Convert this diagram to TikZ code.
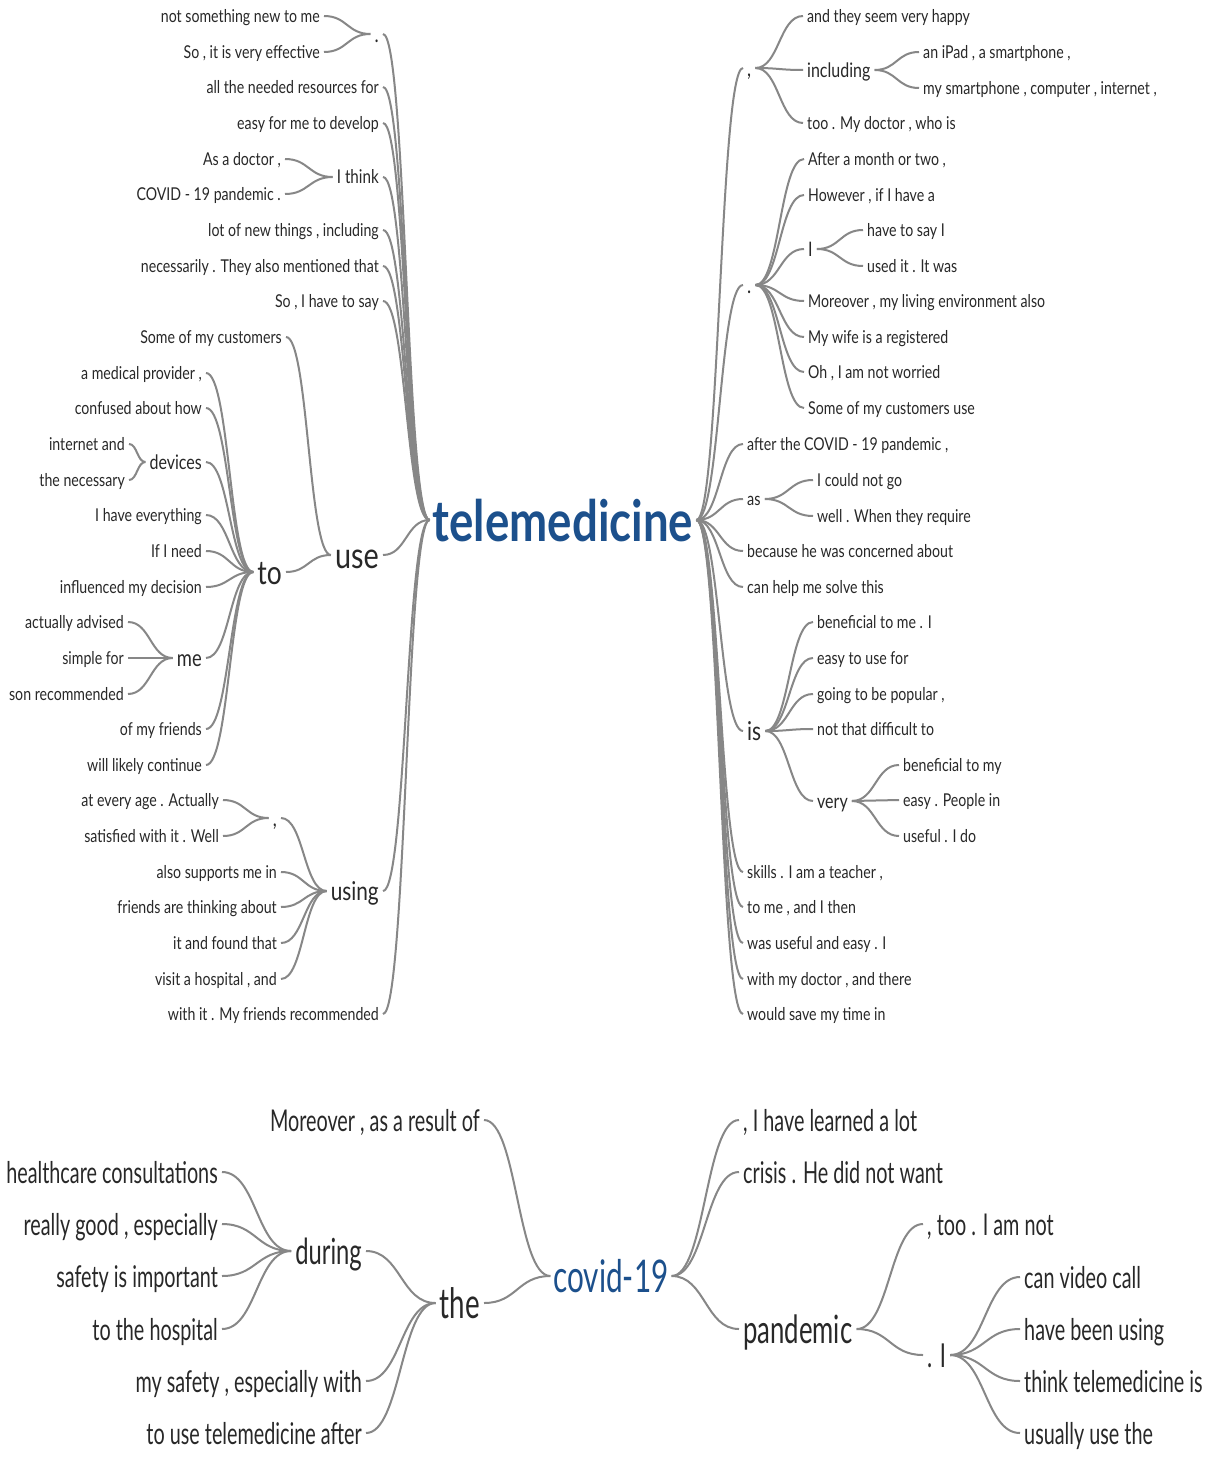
\documentclass[tikz,border=0pt]{standalone}
\usepackage{fontspec}
\setmainfont{Lato}[FakeStretch=0.8]
\newfontfamily\narrowfont{Lato}[FakeStretch=0.66]
\usetikzlibrary{calc}
\definecolor{twiggray}{RGB}{135,135,135}
\definecolor{wordgray}{RGB}{40,40,40}
\definecolor{rootblue}{RGB}{28,80,140}
\tikzset{
  branch/.style={to path={let \p1=(\tikztostart), \p2=(\tikztotarget) in
    .. controls ({(\x1+\x2)/2},\y1) and ({(\x1+\x2)/2},\y2) .. (\tikztotarget)}},
  twig/.style={draw=twiggray, line width=2pt},
  word/.style={inner sep=4pt, text depth=0pt, text=wordgray, execute at begin node={\vphantom{l}}},
  leaf/.style={word, font=\fontsize{17.7}{20}\selectfont},
  hub/.style={word, font=\fontsize{#1}{#1}\selectfont},
  rootword/.style={word, inner sep=3pt, text=rootblue, font=\bfseries\fontsize{57}{57}\selectfont},
  lowleaf/.style={word, font=\narrowfont\fontsize{30}{32}\selectfont},
  lowhub/.style={word, font=\narrowfont\fontsize{#1}{#1}\selectfont},
  lowroot/.style={word, inner sep=3pt, text=rootblue, font=\narrowfont\fontsize{45}{45}\selectfont},
}
\begin{document}
\begin{tikzpicture}[x=1pt,y=-1pt]
\path[fill=white] (0,0) rectangle (1209,1458);
\useasboundingbox (0,0) rectangle (1209,1458);
% upper tree
\node[rootword] (tele) at (563,520) {telemedicine};
% left of telemedicine
\node[hub=22,anchor=east] (dotL) at (383,34) {.};
\node[leaf,anchor=east] (newtome) at (324,16) {not something new to me};
\node[leaf,anchor=east] (effective) at (324,52) {So , it is very effective};
\node[leaf,anchor=east] (resources) at (383,87) {all the needed resources for};
\node[leaf,anchor=east] (develop) at (383,123) {easy for me to develop};
\node[hub=19,anchor=east] (ithink) at (383,177) {I think};
\node[leaf,anchor=east] (asdoctor) at (285,159) {As a doctor ,};
\node[leaf,anchor=east] (covidpand) at (285,194) {COVID - 19 pandemic .};
\node[leaf,anchor=east] (newthings) at (383,230) {lot of new things , including};
\node[leaf,anchor=east] (mentioned) at (383,266) {necessarily . They also mentioned that};
\node[leaf,anchor=east] (havetosay) at (383,301) {So , I have to say};
\node[hub=36,anchor=east] (use) at (383,555) {use};
\node[leaf,anchor=east] (somecust) at (286,337) {Some of my customers};
\node[hub=33,anchor=east] (to) at (286,572) {to};
\node[leaf,anchor=east] (provider) at (206,373) {a medical provider ,};
\node[leaf,anchor=east] (confused) at (206,408) {confused about how};
\node[hub=20,anchor=east] (devices) at (206,462) {devices};
\node[leaf,anchor=east] (internet) at (129,444) {internet and};
\node[leaf,anchor=east] (necessary) at (129,480) {the necessary};
\node[leaf,anchor=east] (everything) at (206,515) {I have everything};
\node[leaf,anchor=east] (ifineed) at (206,551) {If I need};
\node[leaf,anchor=east] (decision) at (206,587) {influenced my decision};
\node[hub=23,anchor=east] (me) at (206,658) {me};
\node[leaf,anchor=east] (advised) at (128,622) {actually advised};
\node[leaf,anchor=east] (simplefor) at (128,658) {simple for};
\node[leaf,anchor=east] (sonrec) at (128,694) {son recommended};
\node[leaf,anchor=east] (friends) at (206,729) {of my friends};
\node[leaf,anchor=east] (continue) at (206,765) {will likely continue};
\node[hub=26,anchor=east] (using) at (383,891) {using};
\node[hub=22,anchor=east] (commaL) at (281,818) {,};
\node[leaf,anchor=east] (everyage) at (223,800) {at every age . Actually};
\node[leaf,anchor=east] (satisfied) at (223,836) {satisfied with it . Well};
\node[leaf,anchor=east] (supports) at (281,872) {also supports me in};
\node[leaf,anchor=east] (thinking) at (281,907) {friends are thinking about};
\node[leaf,anchor=east] (foundthat) at (281,943) {it and found that};
\node[leaf,anchor=east] (hospital) at (281,979) {visit a hospital , and};
\node[leaf,anchor=east] (recommended) at (383,1014) {with it . My friends recommended};
% right of telemedicine
\node[hub=22,anchor=west] (commaR) at (743,68) {,};
\node[leaf,anchor=west] (happy) at (803,16) {and they seem very happy};
\node[hub=20,anchor=west] (including) at (803,70) {including};
\node[leaf,anchor=west] (ipad) at (919,52) {an iPad , a smartphone ,};
\node[leaf,anchor=west] (computer) at (919,88) {my smartphone , computer , internet ,};
\node[leaf,anchor=west] (whois) at (803,123) {too . My doctor , who is};
\node[hub=22,anchor=west] (dotR) at (743,285) {.};
\node[leaf,anchor=west] (month) at (804,159) {After a month or two ,};
\node[leaf,anchor=west] (however) at (804,195) {However , if I have a};
\node[hub=20,anchor=west] (iword) at (804,249) {I};
\node[leaf,anchor=west] (sayi) at (863,230) {have to say I};
\node[leaf,anchor=west] (itwas) at (863,266) {used it . It was};
\node[leaf,anchor=west] (living) at (804,301) {Moreover , my living environment also};
\node[leaf,anchor=west] (wife) at (804,337) {My wife is a registered};
\node[leaf,anchor=west] (worried) at (804,372) {Oh , I am not worried};
\node[leaf,anchor=west] (custuse) at (804,408) {Some of my customers use};
\node[leaf,anchor=west] (afterpand) at (743,444) {after the COVID - 19 pandemic ,};
\node[hub=18,anchor=west] (as) at (743,499) {as};
\node[leaf,anchor=west] (notgo) at (813,480) {I could not go};
\node[leaf,anchor=west] (require) at (813,516) {well . When they require};
\node[leaf,anchor=west] (concerned) at (743,551) {because he was concerned about};
\node[leaf,anchor=west] (solve) at (743,587) {can help me solve this};
\node[hub=26,anchor=west] (is) at (743,731) {is};
\node[leaf,anchor=west] (benme) at (813,622) {beneficial to me . I};
\node[leaf,anchor=west] (easyuse) at (813,658) {easy to use for};
\node[leaf,anchor=west] (popular) at (813,694) {going to be popular ,};
\node[leaf,anchor=west] (difficult) at (813,729) {not that difficult to};
\node[hub=20,anchor=west] (very) at (813,801) {very};
\node[leaf,anchor=west] (benmy) at (899,765) {beneficial to my};
\node[leaf,anchor=west] (people) at (899,800) {easy . People in};
\node[leaf,anchor=west] (ido) at (899,836) {useful . I do};
\node[leaf,anchor=west] (teacher) at (743,872) {skills . I am a teacher ,};
\node[leaf,anchor=west] (ithen) at (743,907) {to me , and I then};
\node[leaf,anchor=west] (easyi) at (743,943) {was useful and easy . I};
\node[leaf,anchor=west] (there) at (743,979) {with my doctor , and there};
\node[leaf,anchor=west] (savetime) at (743,1014) {would save my time in};
% links, upper tree
\draw[twig] (newtome.east) to[branch] (dotL.west);
\draw[twig] (effective.east) to[branch] (dotL.west);
\draw[twig] (asdoctor.east) to[branch] (ithink.west);
\draw[twig] (covidpand.east) to[branch] (ithink.west);
\draw[twig] (internet.east) to[branch] (devices.west);
\draw[twig] (necessary.east) to[branch] (devices.west);
\draw[twig] (advised.east) to[branch] (me.west);
\draw[twig] (simplefor.east) to[branch] (me.west);
\draw[twig] (sonrec.east) to[branch] (me.west);
\draw[twig] (provider.east) to[branch] (to.west);
\draw[twig] (confused.east) to[branch] (to.west);
\draw[twig] (devices.east) to[branch] (to.west);
\draw[twig] (everything.east) to[branch] (to.west);
\draw[twig] (ifineed.east) to[branch] (to.west);
\draw[twig] (decision.east) to[branch] (to.west);
\draw[twig] (me.east) to[branch] (to.west);
\draw[twig] (friends.east) to[branch] (to.west);
\draw[twig] (continue.east) to[branch] (to.west);
\draw[twig] (somecust.east) to[branch] (use.west);
\draw[twig] (to.east) to[branch] (use.west);
\draw[twig] (everyage.east) to[branch] (commaL.west);
\draw[twig] (satisfied.east) to[branch] (commaL.west);
\draw[twig] (commaL.east) to[branch] (using.west);
\draw[twig] (supports.east) to[branch] (using.west);
\draw[twig] (thinking.east) to[branch] (using.west);
\draw[twig] (foundthat.east) to[branch] (using.west);
\draw[twig] (hospital.east) to[branch] (using.west);
\draw[twig] (dotL.east) to[branch] (tele.west);
\draw[twig] (resources.east) to[branch] (tele.west);
\draw[twig] (develop.east) to[branch] (tele.west);
\draw[twig] (ithink.east) to[branch] (tele.west);
\draw[twig] (newthings.east) to[branch] (tele.west);
\draw[twig] (mentioned.east) to[branch] (tele.west);
\draw[twig] (havetosay.east) to[branch] (tele.west);
\draw[twig] (use.east) to[branch] (tele.west);
\draw[twig] (using.east) to[branch] (tele.west);
\draw[twig] (recommended.east) to[branch] (tele.west);
\draw[twig] (tele.east) to[branch] (commaR.west);
\draw[twig] (commaR.east) to[branch] (happy.west);
\draw[twig] (commaR.east) to[branch] (including.west);
\draw[twig] (commaR.east) to[branch] (whois.west);
\draw[twig] (including.east) to[branch] (ipad.west);
\draw[twig] (including.east) to[branch] (computer.west);
\draw[twig] (tele.east) to[branch] (dotR.west);
\draw[twig] (dotR.east) to[branch] (month.west);
\draw[twig] (dotR.east) to[branch] (however.west);
\draw[twig] (dotR.east) to[branch] (iword.west);
\draw[twig] (iword.east) to[branch] (sayi.west);
\draw[twig] (iword.east) to[branch] (itwas.west);
\draw[twig] (dotR.east) to[branch] (living.west);
\draw[twig] (dotR.east) to[branch] (wife.west);
\draw[twig] (dotR.east) to[branch] (worried.west);
\draw[twig] (dotR.east) to[branch] (custuse.west);
\draw[twig] (tele.east) to[branch] (afterpand.west);
\draw[twig] (tele.east) to[branch] (as.west);
\draw[twig] (as.east) to[branch] (notgo.west);
\draw[twig] (as.east) to[branch] (require.west);
\draw[twig] (tele.east) to[branch] (concerned.west);
\draw[twig] (tele.east) to[branch] (solve.west);
\draw[twig] (tele.east) to[branch] (is.west);
\draw[twig] (is.east) to[branch] (benme.west);
\draw[twig] (is.east) to[branch] (easyuse.west);
\draw[twig] (is.east) to[branch] (popular.west);
\draw[twig] (is.east) to[branch] (difficult.west);
\draw[twig] (is.east) to[branch] (very.west);
\draw[twig] (very.east) to[branch] (benmy.west);
\draw[twig] (very.east) to[branch] (people.west);
\draw[twig] (very.east) to[branch] (ido.west);
\draw[twig] (tele.east) to[branch] (teacher.west);
\draw[twig] (tele.east) to[branch] (ithen.west);
\draw[twig] (tele.east) to[branch] (easyi.west);
\draw[twig] (tele.east) to[branch] (there.west);
\draw[twig] (tele.east) to[branch] (savetime.west);
% lower tree
\node[lowroot] (covid) at (611,1276) {covid-19};
\node[lowleaf,anchor=east] (result) at (484,1120) {Moreover , as a result of};
\node[lowhub=42,anchor=east] (the) at (484,1303) {the};
\node[lowhub=36,anchor=east] (during) at (366,1251) {during};
\node[lowleaf,anchor=east] (consult) at (222,1172) {in healthcare consultations};
\node[lowleaf,anchor=east] (good) at (222,1224) {really good , especially};
\node[lowleaf,anchor=east] (important) at (222,1276) {safety is important};
\node[lowleaf,anchor=east] (tohosp) at (222,1329) {to the hospital};
\node[lowleaf,anchor=east] (mysafety) at (366,1381) {my safety , especially with};
\node[lowleaf,anchor=east] (useafter) at (366,1433) {to use telemedicine after};
\node[lowleaf,anchor=west] (learned) at (739,1120) {, I have learned a lot};
\node[lowleaf,anchor=west] (crisis) at (739,1172) {crisis . He did not want};
\node[lowhub=39,anchor=west] (pandemic) at (739,1329) {pandemic};
\node[lowleaf,anchor=west] (iamnot) at (923,1224) {, too . I am not};
\node[lowhub=33,anchor=west] (doti) at (923,1355) {. I};
\node[lowleaf,anchor=west] (videocall) at (1020,1277) {can video call};
\node[lowleaf,anchor=west] (beenusing) at (1020,1329) {have been using};
\node[lowleaf,anchor=west] (thinktele) at (1020,1381) {think telemedicine is};
\node[lowleaf,anchor=west] (usually) at (1020,1433) {usually use the};
% links, lower tree
\draw[twig] (consult.east) to[branch] (during.west);
\draw[twig] (good.east) to[branch] (during.west);
\draw[twig] (important.east) to[branch] (during.west);
\draw[twig] (tohosp.east) to[branch] (during.west);
\draw[twig] (during.east) to[branch] (the.west);
\draw[twig] (mysafety.east) to[branch] (the.west);
\draw[twig] (useafter.east) to[branch] (the.west);
\draw[twig] (result.east) to[branch] (covid.west);
\draw[twig] (the.east) to[branch] (covid.west);
\draw[twig] (covid.east) to[branch] (learned.west);
\draw[twig] (covid.east) to[branch] (crisis.west);
\draw[twig] (covid.east) to[branch] (pandemic.west);
\draw[twig] (pandemic.east) to[branch] (iamnot.west);
\draw[twig] (pandemic.east) to[branch] (doti.west);
\draw[twig] (doti.east) to[branch] (videocall.west);
\draw[twig] (doti.east) to[branch] (beenusing.west);
\draw[twig] (doti.east) to[branch] (thinktele.west);
\draw[twig] (doti.east) to[branch] (usually.west);
\end{tikzpicture}
\end{document}
